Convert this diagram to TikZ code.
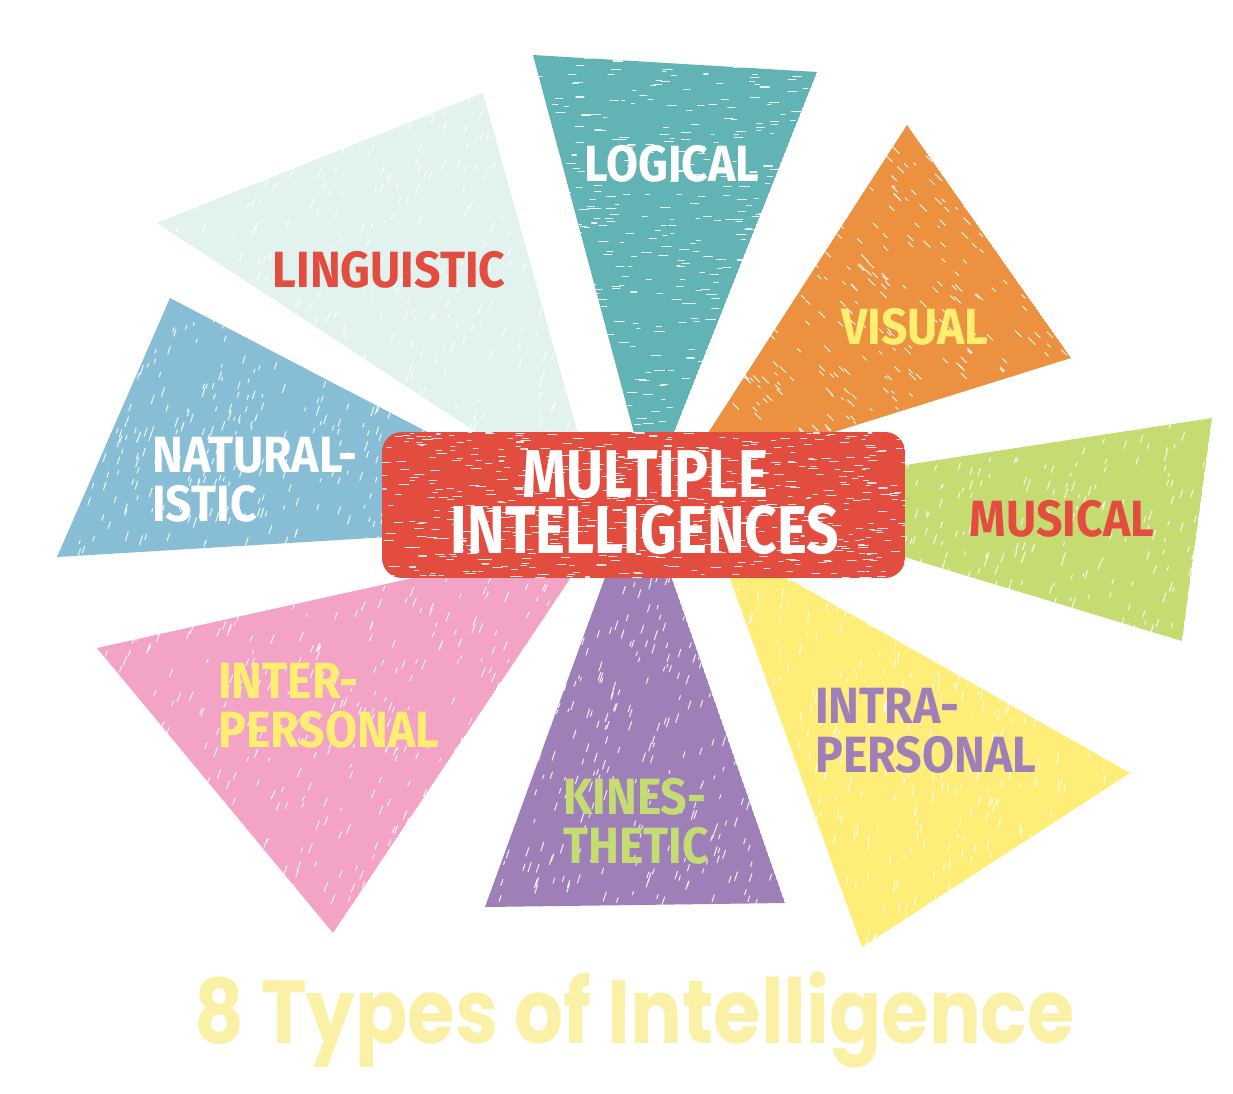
\documentclass[tikz,border=0pt]{standalone}
\usepackage{fontspec}
\usepackage{tikz}
\usetikzlibrary{positioning}
\newfontfamily\labelfont[FakeStretch=0.91]{Fira Sans}
\newfontfamily\centerfont[FakeStretch=0.84]{Fira Sans}
\newfontfamily\titlefont[FakeStretch=0.86]{Poppins}
\definecolor{logicalc}{HTML}{62B3B3}
\definecolor{visualc}{HTML}{EB9140}
\definecolor{musicalc}{HTML}{C5DC72}
\definecolor{intrac}{HTML}{FEEE78}
\definecolor{kinesc}{HTML}{9E7FB8}
\definecolor{interc}{HTML}{F3A3C6}
\definecolor{naturec}{HTML}{88BDD6}
\definecolor{linguc}{HTML}{E2F2EE}
\definecolor{boxred}{HTML}{E34D40}
\definecolor{txtyellow}{HTML}{FFEE70}
\definecolor{txtpurple}{HTML}{9E7FB8}
\definecolor{txtgreen}{HTML}{C5DC72}
\definecolor{titleyellow}{HTML}{FAF1A6}
% random white scratches: xmin, ymin, xmax, ymax, angle, count
\newcommand{\scratches}[6]{%
  \foreach \k in {1,...,#6}{
    \pgfmathsetmacro{\sx}{#1+rnd*(#3-#1)}
    \pgfmathsetmacro{\sy}{#2+rnd*(#4-#2)}
    \pgfmathsetmacro{\sl}{3+7*rnd}
    \draw[scratch] (\sx,\sy) -- ++({\sl*cos(#5)},{-\sl*sin(#5)});
  }}

\begin{document}
\begin{tikzpicture}[x=0.02cm,y=-0.02cm,
    scratch/.style={white, line width=0.6pt, opacity=0.85, line cap=round},
    lbl/.style={font=\labelfont\bfseries\fontsize{29}{28}\selectfont, inner sep=0pt, align=left},
    centertext/.style={font=\centerfont\bfseries\fontsize{38.5}{32}\selectfont, inner sep=0pt, align=center, text=white}]
  \pgfmathsetseed{7}
  \useasboundingbox (0,0) rectangle (1233,1093);
  % Logical triangle
  \begin{scope}
    \clip (533,55) -- (817,72) -- (650,493) -- cycle;
    \fill[logicalc] (533,55) -- (817,72) -- (650,493) -- cycle;
    \scratches{533}{55}{817}{493}{0}{500}
  \end{scope}
  % Visual triangle
  \begin{scope}
    \clip (907,125) -- (1071,358) -- (677,481) -- cycle;
    \fill[visualc] (907,125) -- (1071,358) -- (677,481) -- cycle;
    \scratches{677}{125}{1071}{481}{-45}{450}
  \end{scope}
  % Musical triangle
  \begin{scope}
    \clip (1212,418) -- (1182,641) -- (703,496) -- cycle;
    \fill[musicalc] (1212,418) -- (1182,641) -- (703,496) -- cycle;
    \scratches{703}{418}{1212}{641}{72}{420}
  \end{scope}
  % Intrapersonal triangle
  \begin{scope}
    \clip (715,537) -- (1130,773) -- (862,947) -- cycle;
    \fill[intrac] (715,537) -- (1130,773) -- (862,947) -- cycle;
    \scratches{715}{537}{1130}{947}{82}{480}
  \end{scope}
  % Kinesthetic triangle
  \begin{scope}
    \clip (639,484) -- (785,903) -- (485,907) -- cycle;
    \fill[kinesc] (639,484) -- (785,903) -- (485,907) -- cycle;
    \scratches{485}{484}{785}{907}{72}{420}
  \end{scope}
  % Interpersonal triangle
  \begin{scope}
    \clip (598,537) -- (97,648) -- (333,933) -- cycle;
    \fill[interc] (598,537) -- (97,648) -- (333,933) -- cycle;
    \scratches{97}{537}{598}{933}{68}{520}
  \end{scope}
  % Naturalistic triangle
  \begin{scope}
    \clip (170,298) -- (57,557) -- (604,524) -- cycle;
    \fill[naturec] (170,298) -- (57,557) -- (604,524) -- cycle;
    \scratches{57}{298}{604}{557}{72}{480}
  \end{scope}
  % Linguistic triangle
  \begin{scope}
    \clip (157,223) -- (483,93) -- (600,513) -- cycle;
    \fill[linguc] (157,223) -- (483,93) -- (600,513) -- cycle;
    \scratches{157}{93}{600}{513}{68}{440}
  \end{scope}
  % Center box
  \begin{scope}
    \clip[rounded corners=0.4cm] (382,432) rectangle (905,578);
    \fill[boxred] (382,432) rectangle (905,578);
    \scratches{382}{432}{905}{578}{0}{600}
  \end{scope}

  % Labels
  \node[lbl, text=white] (logical) at (672,164) {LOGICAL};
  \node[lbl, text=txtyellow] (visual) at (915,327) {VISUAL};
  \node[lbl, text=boxred] (musical) at (1062,519) {MUSICAL};
  \node[lbl, text=boxred] (linguistic) at (389,270) {LINGUISTIC};
  \node[lbl, text=white, anchor=north west] (naturalistic) at (152,437) {NATURAL-\\ISTIC};
  \node[lbl, text=txtyellow, anchor=north west] (interpersonal) at (218,663) {INTER-\\PERSONAL};
  \node[lbl, text=txtpurple, anchor=north west] (intrapersonal) at (815,688) {INTRA-\\PERSONAL};
  \node[lbl, text=txtgreen, anchor=north west] (kinesthetic) at (563,778) {KINES-\\THETIC};
  \node[centertext] (center) at (645,503) {MULTIPLE\\INTELLIGENCES};

  % Title
  \node[font=\titlefont\bfseries\fontsize{51}{51}\selectfont, text=titleyellow, anchor=base, inner sep=0pt] (title) at (635,1043) {8 Types of Intelligence};
\end{tikzpicture}
\end{document}
